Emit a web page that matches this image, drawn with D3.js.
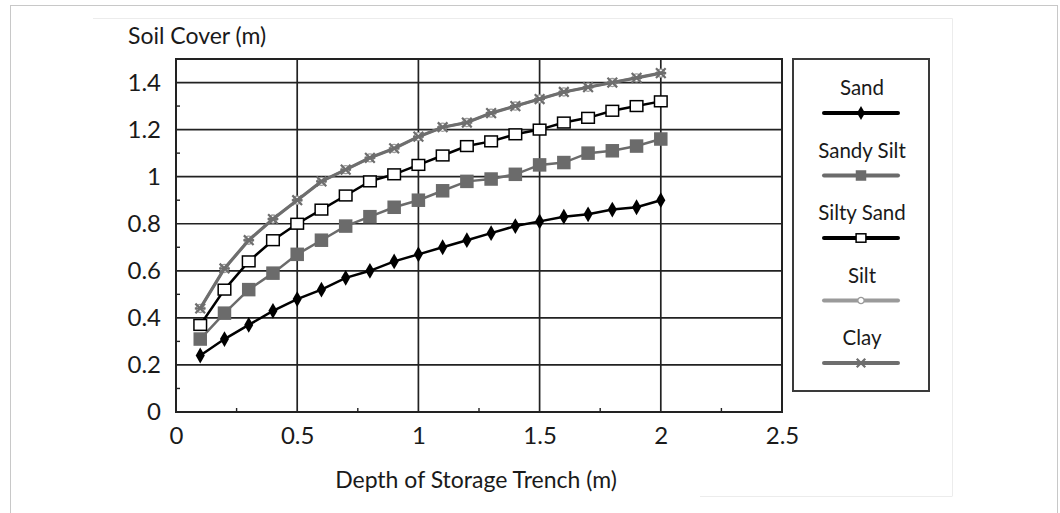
<!DOCTYPE html>
<html lang="en">
<head>
  <meta charset="UTF-8">
  <title>Soil Cover vs Depth of Storage Trench</title>
  <script src="https://d3js.org/d3.v7.min.js"></script>
  <style>
    body { margin: 0; background: #fff; }
    text { font-family: "Lato", "Open Sans", sans-serif; fill: #1a1a1a; }
  </style>
</head>
<body>
<div id="chart"></div>
<script>
  // depth of storage trench (m)
  const depths = [0.1, 0.2, 0.3, 0.4, 0.5, 0.6, 0.7, 0.8, 0.9, 1.0,
                  1.1, 1.2, 1.3, 1.4, 1.5, 1.6, 1.7, 1.8, 1.9, 2.0];

  // soil cover (m) per soil type
  const sand      = [0.24, 0.31, 0.37, 0.43, 0.48, 0.52, 0.57, 0.60, 0.64, 0.67,
                     0.70, 0.73, 0.76, 0.79, 0.81, 0.83, 0.84, 0.86, 0.87, 0.90];
  const sandySilt = [0.31, 0.42, 0.52, 0.59, 0.67, 0.73, 0.79, 0.83, 0.87, 0.90,
                     0.94, 0.98, 0.99, 1.01, 1.05, 1.06, 1.10, 1.11, 1.13, 1.16];
  const siltySand = [0.37, 0.52, 0.64, 0.73, 0.80, 0.86, 0.92, 0.98, 1.01, 1.05,
                     1.09, 1.13, 1.15, 1.18, 1.20, 1.23, 1.25, 1.28, 1.30, 1.32];
  const silt      = [0.44, 0.61, 0.73, 0.82, 0.90, 0.98, 1.03, 1.08, 1.12, 1.17,
                     1.21, 1.23, 1.27, 1.30, 1.33, 1.36, 1.38, 1.40, 1.42, 1.44];
  const clay      = [0.44, 0.61, 0.73, 0.82, 0.90, 0.98, 1.03, 1.08, 1.12, 1.17,
                     1.21, 1.23, 1.27, 1.30, 1.33, 1.36, 1.38, 1.40, 1.42, 1.44];

  const seriesNames = ["Sand", "Sandy Silt", "Silty Sand", "Silt", "Clay"];
  const xTicks = [0, 0.5, 1, 1.5, 2, 2.5];
  const yTicks = [0, 0.2, 0.4, 0.6, 0.8, 1, 1.2, 1.4];

  const series = [
    { name: seriesNames[0], values: sand,      color: "#000",    marker: "diamond" },
    { name: seriesNames[1], values: sandySilt, color: "#6b6b6b", marker: "square" },
    { name: seriesNames[2], values: siltySand, color: "#000",    marker: "openSquare" },
    { name: seriesNames[3], values: silt,      color: "#9a9a9a", marker: "circle" },
    { name: seriesNames[4], values: clay,      color: "#6e6e6e", marker: "star" }
  ];

  const W = 1060, H = 513;
  const margin = { top: 59, right: 278, bottom: 101, left: 176 };
  const width = W - margin.left - margin.right;
  const height = H - margin.top - margin.bottom;

  const svg = d3.select("#chart").append("svg")
    .attr("width", W).attr("height", H);

  // outer frame
  svg.append("rect").attr("x", 10.5).attr("y", 5.5).attr("width", 1047).attr("height", 520)
    .attr("fill", "none").attr("stroke", "#c8c8c8");
  svg.append("path").attr("d", "M93,18.5H952.5V496M952.5,496.5H700")
    .attr("fill", "none").attr("stroke", "#ececec");

  const g = svg.append("g").attr("transform", `translate(${margin.left},${margin.top})`);

  const x = d3.scaleLinear().domain([0, 2.5]).range([0, width]);
  const y = d3.scaleLinear().domain([0, 1.5]).range([height, 0]);

  // grid lines
  g.append("g").selectAll("line").data(yTicks.filter(d => d > 0)).join("line")
    .attr("x1", 0).attr("x2", width)
    .attr("y1", d => y(d)).attr("y2", d => y(d))
    .attr("stroke", "#222").attr("stroke-width", 1.7);
  g.append("g").selectAll("line").data(xTicks.filter(d => d > 0 && d < 2.5)).join("line")
    .attr("y1", 0).attr("y2", height)
    .attr("x1", d => x(d)).attr("x2", d => x(d))
    .attr("stroke", "#222").attr("stroke-width", 1.7);

  // minor ticks
  g.append("g").selectAll("line").data(d3.range(1, 15, 2).map(d => d / 10)).join("line")
    .attr("x1", 0).attr("x2", 4)
    .attr("y1", d => y(d)).attr("y2", d => y(d))
    .attr("stroke", "#222").attr("stroke-width", 1.4);
  g.append("g").selectAll("line").data([0.25, 0.75, 1.25, 1.75, 2.25]).join("line")
    .attr("y1", height).attr("y2", height - 4)
    .attr("x1", d => x(d)).attr("x2", d => x(d))
    .attr("stroke", "#222").attr("stroke-width", 1.4);

  // plot border
  g.append("rect").attr("width", width).attr("height", height)
    .attr("fill", "none").attr("stroke", "#222").attr("stroke-width", 2);

  // axes labels
  const xAxis = g.append("g").attr("transform", `translate(0,${height})`)
    .call(d3.axisBottom(x).tickValues(xTicks).tickSize(0).tickPadding(15).tickFormat(d3.format("")));
  const yAxis = g.append("g")
    .call(d3.axisLeft(y).tickValues(yTicks).tickSize(0).tickPadding(15).tickFormat(d3.format("")));
  [xAxis, yAxis].forEach(a => {
    a.select(".domain").remove();
    a.selectAll("text").style("font-size", "24px").attr("fill", "#1a1a1a")
      .style("font-family", "Lato, sans-serif");
  });

  svg.append("text").attr("x", 128).attr("y", 44).style("font-size", "23px")
    .text("Soil Cover (m)");
  svg.append("text").attr("x", 476).attr("y", 488).attr("text-anchor", "middle")
    .style("font-size", "23px").text("Depth of Storage Trench (m)");

  // markers
  function drawMarker(sel, type, color, s) {
    if (type === "diamond") {
      sel.append("path").attr("d", d3.symbol(d3.symbolDiamond, s * 8)())
        .attr("fill", color);
    } else if (type === "square") {
      sel.append("rect").attr("x", -s * 0.75).attr("y", -s * 0.75)
        .attr("width", s * 1.5).attr("height", s * 1.5).attr("fill", color);
    } else if (type === "openSquare") {
      sel.append("rect").attr("x", -s * 0.7).attr("y", -s * 0.6)
        .attr("width", s * 1.4).attr("height", s * 1.2)
        .attr("fill", "#fff").attr("stroke", color).attr("stroke-width", 1.5);
    } else if (type === "circle") {
      sel.append("circle").attr("r", s * 0.45).attr("fill", "#fff")
        .attr("stroke", color).attr("stroke-width", 1.3);
    } else if (type === "star") {
      sel.append("path").attr("d", d3.symbol(d3.symbolTimes, s * 7)())
        .attr("fill", "none").attr("stroke", color).attr("stroke-width", 2.2);
      sel.append("line").attr("x1", -s * 0.6).attr("x2", s * 0.6)
        .attr("stroke", color).attr("stroke-width", 2.2);
    }
  }

  const line = d3.line().x((d, i) => x(depths[i])).y(d => y(d));

  series.forEach(s => {
    const sg = g.append("g");
    sg.append("path").datum(s.values).attr("d", line)
      .attr("fill", "none").attr("stroke", s.color)
      .attr("stroke-width", s.marker === "star" ? 3.2 : 2.5);
    s.values.forEach((v, i) => {
      const m = sg.append("g").attr("transform", `translate(${x(depths[i])},${y(v)})`);
      drawMarker(m, s.marker, s.color, 9);
    });
  });

  // legend
  const lg = svg.append("g");
  lg.append("rect").attr("x", 793).attr("y", 59).attr("width", 136).attr("height", 332)
    .attr("fill", "#fff").attr("stroke", "#3a3a3a").attr("stroke-width", 2);
  series.forEach((s, i) => {
    const cy = 88 + i * 62.5;
    lg.append("text").attr("x", 862).attr("y", cy + 7).attr("text-anchor", "middle")
      .style("font-size", "20.5px").text(s.name);
    lg.append("line").attr("x1", 824).attr("x2", 898)
      .attr("y1", cy + 25).attr("y2", cy + 25)
      .attr("stroke", s.color).attr("stroke-width", 4).attr("stroke-linecap", "round");
    const m = lg.append("g").attr("transform", `translate(861,${cy + 25})`);
    drawMarker(m, s.marker, s.color, 7);
  });
</script>
</body>
</html>
